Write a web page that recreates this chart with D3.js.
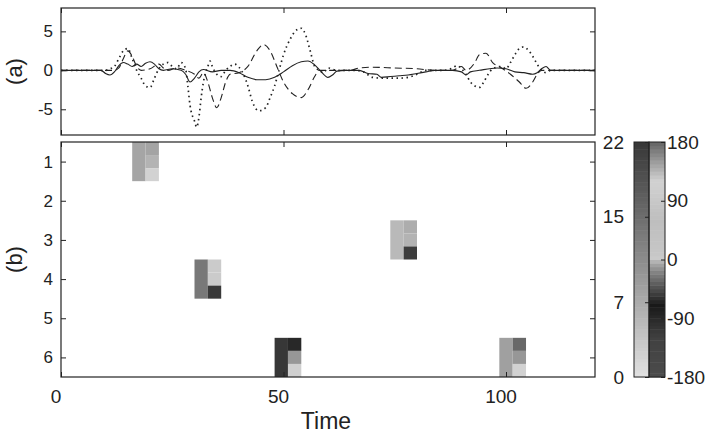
<!DOCTYPE html>
<html>
<head>
<meta charset="utf-8">
<script src="https://cdn.jsdelivr.net/npm/d3@7"></script>
<style>
  body { margin: 0; background: #fff; }
  svg text { font-family: "Liberation Sans", Arial, sans-serif; fill: #222; }
</style>
</head>
<body>
<svg width="710" height="438"></svg>
<script>
const svg = d3.select("svg");

// panel (a): three traces, [time, value]
const solid = [[0,0],[9,0],[10,-0.4],[11,-0.6],[12,-0.2],[13,0.6],[14,1.0],[15,0.8],[16,0.5],[17,0.8],[18,0.5],[19,0.9],[20,1.1],[21,0.8],[22,0.2],[23,0],[25,0.2],[27,0],[28,-0.5],[29,-1.5],[30,-1.0],[31,-0.2],[32,0.1],[34,-0.2],[36,0],[38,0],[40,-0.3],[42,-0.9],[44,-1.2],[46,-1.2],[48,-0.9],[50,-0.2],[52,0.6],[54,1.1],[55.5,1.2],[57,0.7],[58.5,-0.2],[60,-0.9],[61,-0.6],[62,-0.1],[64,0],[67,0],[69,-0.4],[71,-0.5],[72,-0.9],[74,-0.8],[76,-0.7],[78,-0.6],[80,-0.4],[82,-0.2],[84,0],[88,0],[90,-0.2],[91,-0.6],[92,-0.2],[94,0],[98,0.3],[100,0.2],[102,-0.2],[104,-0.3],[106,-0.5],[107,-0.3],[108,0.2],[109,0.5],[110,0],[112,0],[120,0]];
const dashed = [[0,0],[12,0],[13,0.3],[14,1.5],[15,2.5],[16,1.8],[17,0.5],[18,0],[20,0.2],[22,0.8],[23,0.3],[24,0],[26,0.3],[28,0],[30,-0.5],[31,-1.0],[32,-0.3],[33,-1.5],[34,-3.5],[35,-4.8],[36,-3.5],[37,-1.5],[38,-0.5],[40,-0.3],[42,0.5],[44,2.5],[45.5,3.3],[47,2.5],[48.5,0.5],[50,-1.5],[52,-3.0],[54,-3.5],[55.5,-2.5],[57,-0.8],[58,0],[65,0],[67,0.3],[70,0.4],[75,0.3],[80,0.2],[84,0],[88,0],[90,0.5],[91,0],[93,1.0],[94,2.0],[95.5,2.2],[97,1.0],[99,0.3],[101,-0.5],[103,-1.5],[104.5,-2.3],[106,-1.5],[107,-0.5],[108,0],[112,0],[120,0]];
const dotted = [[0,0],[10,0],[11,0.2],[12,0.5],[13,1.5],[14,2.5],[15,2.8],[16,1.5],[17,0],[18,-1.0],[19,-2.0],[20,-2.2],[21,-1.0],[22,0.2],[23,0.8],[24,1.0],[25,0.5],[26,0.2],[27,1.0],[28,0.2],[28.5,-2],[29,-4.5],[30,-6.5],[30.5,-7.3],[31,-6],[31.5,-3.5],[32,-1.5],[33,0.5],[33.5,1.2],[34,0.5],[35,-0.5],[36,-0.8],[37,0],[38,0.5],[39,0.8],[40,0.4],[41,-0.5],[42,-2.0],[43,-4.0],[44.5,-5.2],[46,-4.8],[47,-3.5],[48,-2.0],[49,0],[50,2.0],[51.5,4.0],[53,5.2],[54,5.4],[55,4.5],[56,2.5],[57,0.5],[58,0],[59,-0.3],[60,0.3],[62,0],[66,0],[68,-0.2],[70,-0.9],[72,-1.0],[76,-1.0],[78,-0.9],[80,-0.5],[82,0],[86,0],[88,0.3],[89,0.6],[90,0.2],[91,-0.5],[92,-1.5],[93,-2.0],[94,-2.2],[95,-1.5],[96,-0.5],[97,0.2],[99,0.5],[100,0.2],[101,1.0],[102,2.0],[103,2.8],[104,3.0],[105,2.6],[106,1.8],[107,0.8],[108,0],[109,-0.3],[110,0],[112,0],[120,0]];

// panel (b): blocks of (amplitude, 3 phases)
const blockStart = [16, 30, 74, 48, 98.5];
const blockRow = [1, 4, 3, 6, 6];
const blockAmp = [7.8, 13.6, 5.2, 22, 8.4];
const blockPhase = [[145,137,120],[100,100,-55],[140,137,-53],[-89,-12,110],[178,-12,120]];
const cellWidth = 3;

const xTicks = [0, 50, 100];
const aTicks = [-5, 0, 5];
const rowTicks = [1, 2, 3, 4, 5, 6];
const ampTicks = [0, 7, 15, 22];
const phaseTicks = [-180, -90, 0, 90, 180];

// layout
const L = 61, R = 595;
const aTop = 8, aBot = 135;
const bTop = 142, bBot = 377;
const cbA = [634, 649], cbP = [649, 665];

const x = d3.scaleLinear().domain([0, 120]).range([L, R]);
const yA = d3.scaleLinear().domain([-8.3, 8]).range([aBot, aTop]);
const yB = d3.scaleLinear().domain([0.5, 6.5]).range([bTop, bBot]);

const ampGray = d3.scaleLinear().domain([0, 22]).range([225, 55]);
const phaseGray = d3.scaleLinear()
  .domain([-180, -120, -70, -20, -3, 0, 3, 60, 120, 180])
  .range([75, 65, 25, 130, 175, 235, 200, 190, 210, 100]);
const gray = v => { const g = Math.round(v); return d3.rgb(g, g, g).toString(); };
const plain = d => String(d);

// ---- panel (a)
const line = d3.line().x(d => x(d[0])).y(d => yA(d[1])).curve(d3.curveMonotoneX);
const ga = svg.append("g");
ga.append("path").datum(solid).attr("d", line)
  .attr("fill", "none").attr("stroke", "#222").attr("stroke-width", 1.1);
ga.append("path").datum(dashed).attr("d", line)
  .attr("fill", "none").attr("stroke", "#222").attr("stroke-width", 1.1).attr("stroke-dasharray", "7,4");
ga.append("path").datum(dotted).attr("d", line)
  .attr("fill", "none").attr("stroke", "#222").attr("stroke-width", 1.7).attr("stroke-dasharray", "1.5,3.5");

function frame(top, bot, yScale, yTicks) {
  const g = svg.append("g");
  g.append("g").attr("transform", `translate(${L},0)`)
    .call(d3.axisLeft(yScale).tickValues(yTicks).tickSize(-5).tickPadding(8).tickFormat(plain));
  g.append("g").attr("transform", `translate(${R},0)`)
    .call(d3.axisRight(yScale).tickValues(yTicks).tickSize(-5).tickFormat(""));
  g.append("g").attr("transform", `translate(0,${top})`)
    .call(d3.axisTop(x).tickValues(xTicks).tickSize(-5).tickFormat(""));
  g.append("g").attr("transform", `translate(0,${bot})`)
    .call(d3.axisBottom(x).tickValues(xTicks).tickSize(-5).tickFormat(""));
  g.selectAll(".domain").remove();
  g.selectAll(".tick line").attr("stroke", "#222");
  g.selectAll(".tick text").attr("font-size", 17).attr("fill", "#222").attr("font-family", "Liberation Sans, Arial, sans-serif");
  g.append("rect").attr("x", L).attr("y", top).attr("width", R - L).attr("height", bot - top)
    .attr("fill", "none").attr("stroke", "#222").attr("stroke-width", 1.2);
  return g;
}

frame(aTop, aBot, yA, aTicks);

// ---- panel (b)
const gb = svg.append("g");
blockStart.forEach((t0, i) => {
  const r = blockRow[i];
  gb.append("rect")
    .attr("x", x(t0)).attr("y", yB(r - 0.5))
    .attr("width", x(t0 + cellWidth) - x(t0)).attr("height", yB(r + 0.5) - yB(r - 0.5))
    .attr("fill", gray(ampGray(blockAmp[i])));
  blockPhase[i].forEach((p, k) => {
    gb.append("rect")
      .attr("x", x(t0 + cellWidth)).attr("y", yB(r - 0.5 + k / 3))
      .attr("width", x(t0 + 2 * cellWidth) - x(t0 + cellWidth)).attr("height", yB(r + 0.5) - yB(r + 0.5 - 1 / 3))
      .attr("fill", gray(phaseGray(p)));
  });
});

frame(bTop, bBot, yB, rowTicks);
svg.append("g").selectAll("text").data(xTicks).join("text")
  .attr("x", d => x(d) - 5).attr("y", 403)
  .attr("text-anchor", "middle").attr("font-size", 19).text(d => d);

svg.append("text").attr("x", 326).attr("y", 429).attr("text-anchor", "middle")
  .attr("font-size", 23).text("Time");
svg.append("text").attr("transform", `translate(22,${(aTop + aBot) / 2}) rotate(-90)`)
  .attr("text-anchor", "middle").attr("font-size", 22).text("(a)");
svg.append("text").attr("transform", `translate(22,${(bTop + bBot) / 2}) rotate(-90)`)
  .attr("text-anchor", "middle").attr("font-size", 22).text("(b)");

// ---- colorbars
const yAmp = d3.scaleLinear().domain([0, 22]).range([bBot, bTop]);
const yPh = d3.scaleLinear().domain([-180, 180]).range([bBot, bTop]);
const nStep = 64;
const cb = svg.append("g");
d3.range(nStep).forEach(i => {
  const a0 = 22 * i / nStep, a1 = 22 * (i + 1) / nStep;
  cb.append("rect").attr("x", cbA[0]).attr("width", cbA[1] - cbA[0])
    .attr("y", yAmp(a1)).attr("height", yAmp(a0) - yAmp(a1) + 0.5)
    .attr("fill", gray(ampGray((a0 + a1) / 2)));
  const p0 = -180 + 360 * i / nStep, p1 = -180 + 360 * (i + 1) / nStep;
  cb.append("rect").attr("x", cbP[0]).attr("width", cbP[1] - cbP[0])
    .attr("y", yPh(p1)).attr("height", yPh(p0) - yPh(p1) + 0.5)
    .attr("fill", gray(phaseGray((p0 + p1) / 2)));
});
cb.append("rect").attr("x", cbA[0]).attr("y", bTop).attr("width", cbA[1] - cbA[0]).attr("height", bBot - bTop)
  .attr("fill", "none").attr("stroke", "#222");
cb.append("rect").attr("x", cbP[0]).attr("y", bTop).attr("width", cbP[1] - cbP[0]).attr("height", bBot - bTop)
  .attr("fill", "none").attr("stroke", "#222");

cb.append("g").attr("transform", `translate(${cbA[1]},0)`)
  .call(d3.axisLeft(yAmp).tickValues(ampTicks).tickSize(4).tickPadding(cbA[1] - cbA[0] + 6).tickFormat(plain));
cb.append("g").attr("transform", `translate(${cbP[1]},0)`)
  .call(d3.axisRight(yPh).tickValues(phaseTicks).tickSize(-4).tickPadding(2).tickFormat(plain));
cb.selectAll(".domain").remove();
cb.selectAll(".tick line").attr("stroke", "#222");
cb.selectAll(".tick text").attr("font-size", 19).attr("fill", "#222").attr("font-family", "Liberation Sans, Arial, sans-serif");
</script>
</body>
</html>
